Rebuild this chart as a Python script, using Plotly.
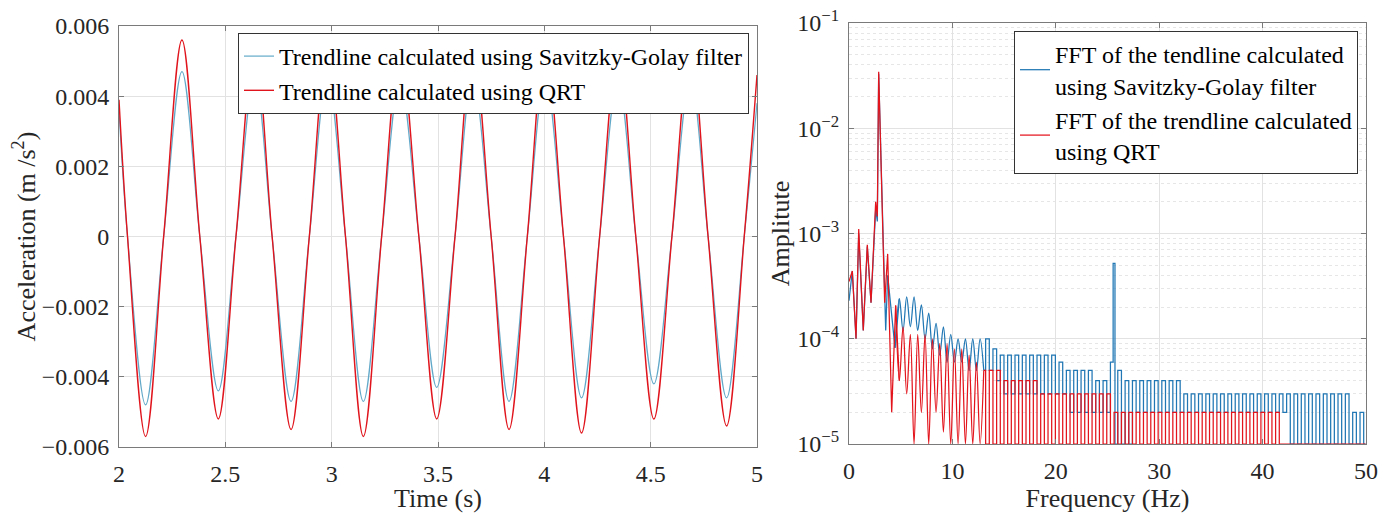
import plotly.graph_objects as go

# ---------------- Left panel: trendlines (Time in s, acceleration in m/s^2) ----------------
time_s = [2.00, 2.04, 2.125, 2.21, 2.296, 2.38, 2.467, 2.55, 2.638, 2.72, 2.809, 2.895,
          2.98, 3.065, 3.149, 3.235, 3.321, 3.41, 3.494, 3.58, 3.663, 3.75, 3.834, 3.92,
          4.004, 4.09, 4.175, 4.26, 4.346, 4.43, 4.515, 4.60, 4.687, 4.77, 4.857, 4.94, 5.00]
qrt_acc = [0.0039, 0, -0.0057, 0, 0.0056, 0, -0.0052, 0, 0.0055, 0, -0.0055, 0,
           0.0055, 0, -0.0057, 0, 0.0054, 0, -0.0052, 0, 0.0055, 0, -0.0055, 0,
           0.0055, 0, -0.0056, 0, 0.0054, 0, -0.0052, 0, 0.0055, 0, -0.0054, 0, 0.0046]
sg_acc = [0.0036, 0, -0.0048, 0, 0.0047, 0, -0.0044, 0, 0.0046, 0, -0.0047, 0,
          0.0046, 0, -0.0047, 0, 0.0045, 0, -0.0043, 0, 0.0046, 0, -0.0047, 0,
          0.0046, 0, -0.0046, 0, 0.0045, 0, -0.0042, 0, 0.0046, 0, -0.0046, 0, 0.0038]

# ---------------- Right panel: FFT amplitude spectra ----------------
sg_low_hz = [0.0, 0.32, 0.68, 0.94, 1.16, 1.38, 1.77, 2.13, 2.58, 2.74, 2.87, 3.55, 3.74, 4.45]
sg_low_amp = [2.3e-4, 4.4e-4, 1.0e-4, 1.0e-3, 3.5e-4, 1.2e-4, 7.5e-4, 2.2e-4, 1.7e-3, 1.3e-3,
              3.3e-2, 1.2e-4, 4.0e-4, 8.2e-5]
qrt_low_hz = [0.0, 0.32, 0.68, 0.94, 1.16, 1.38, 1.77, 2.13, 2.58, 2.74, 2.87, 3.45, 3.74, 4.13, 4.51]
qrt_low_amp = [3.5e-4, 4.4e-4, 1.0e-4, 1.1e-3, 3.6e-4, 1.2e-4, 7.8e-4, 2.2e-4, 2.0e-3, 1.45e-3,
               3.44e-2, 2.2e-4, 6.4e-4, 2.0e-5, 2.07e-4]

lobe_grid_hz = [
    4.870, 5.225, 5.580, 5.935, 6.290, 6.645, 7.000, 7.355, 7.710, 8.065, 8.420, 8.775,
    9.130, 9.485, 9.840, 10.195, 10.550, 10.905, 11.260, 11.615, 11.970, 12.325, 12.680, 13.035,
    13.390, 13.745, 14.100, 14.455, 14.810, 15.165, 15.520, 15.875, 16.230, 16.585, 16.940, 17.295,
    17.650, 18.005, 18.360, 18.715, 19.070, 19.425, 19.780, 20.135, 20.490, 20.845, 21.200, 21.555,
    21.910, 22.265, 22.620, 22.975, 23.330, 23.685, 24.040, 24.395, 24.750, 25.105, 25.460, 25.815,
    26.170, 26.525, 26.880, 27.235, 27.590, 27.945, 28.300, 28.655, 29.010, 29.365, 29.720, 30.075,
    30.430, 30.785, 31.140, 31.495, 31.850, 32.205, 32.560, 32.915, 33.270, 33.625, 33.980, 34.335,
    34.690, 35.045, 35.400, 35.755, 36.110, 36.465, 36.820, 37.175, 37.530, 37.885, 38.240, 38.595,
    38.950, 39.305, 39.660, 40.015, 40.370, 40.725, 41.080, 41.435, 41.790, 42.145, 42.500, 42.855,
    43.210, 43.565, 43.920, 44.275, 44.630, 44.985, 45.340, 45.695, 46.050, 46.405, 46.760, 47.115,
    47.470, 47.825, 48.180, 48.535, 48.890, 49.245, 49.600, 49.955]

# Savitzky-Golay spectrum: lobe tops (even grid points) and dips (odd grid points)
sg_lobe_peak = [2.4e-4, 2.5e-4, 2.5e-4, 2.1e-4, 1.75e-4, 1.4e-4, 1.3e-4, 1.1e-4,
                1.0e-4, 1.0e-4, 1.0e-4, 1.0e-4, 1.0e-4, 8e-5, 7e-5, 7e-5,
                7e-5, 7e-5, 7e-5, 7e-5, 7e-5, 7e-5, 6e-5, 5e-5,
                5e-5, 5e-5, 5e-5, 4e-5, 4e-5, 6e-5, 5e-5, 4e-5,
                4e-5, 4e-5, 4e-5, 4e-5, 4e-5, 4e-5, 4e-5, 3e-5,
                3e-5, 3e-5, 3e-5, 3e-5, 3e-5, 3e-5, 3e-5, 3e-5,
                3e-5, 3e-5, 3e-5, 3e-5, 3e-5, 3e-5, 3e-5, 3e-5,
                3e-5, 3e-5, 3e-5, 3e-5, 3e-5, 3e-5, 2e-5, 2e-5]
sg_lobe_dip = [1.2e-4, 1.3e-4, 1.2e-4, 1.0e-4, 8e-5, 7e-5, 6e-5, 6e-5,
               6e-5, 5e-5, 5e-5, 5e-5, 5e-5, 4e-5, 3e-5, 3e-5,
               3e-5, 3e-5, 3e-5, 3e-5, 3e-5, 3e-5, 3e-5, 2e-5,
               2e-5, 2e-5, 2e-5, 2e-5, 2e-5, 1e-5, 1e-5, 1e-5,
               2e-5, 2e-5, 2e-5, 2e-5, 2e-5, 2e-5, 2e-5, 2e-5,
               2e-5, 2e-5, 2e-5, 2e-5, 2e-5, 2e-5, 2e-5, 2e-5,
               2e-5, 2e-5, 2e-5, 2e-5, 2e-5, 1e-5, 1e-5, 1e-5,
               1e-5, 1e-5, 1e-5, 1e-5, 1e-5, 1e-5, 1e-5, 1e-5]
sg_spike_hz = [25.63]
sg_spike_amp = [5.2e-4]

# QRT spectrum: dips (even grid points) and lobe tops (odd grid points)
qrt_lobe_dip = [4e-5, 3e-5, 1e-5, 2e-5, 1e-5, 2e-5, 1.3e-5, 1e-5,
                1e-5, 1e-5, 1e-5, 1e-5, 1e-5, 1e-5, 1e-5, 1e-5,
                1e-5, 1e-5, 1e-5, 1e-5, 1e-5, 1e-5, 1e-5, 1e-5,
                1e-5, 1e-5, 1e-5, 1e-5, 1e-5, 1e-5, 1e-5, 1e-5,
                1e-5, 1e-5, 1e-5, 1e-5, 1e-5, 1e-5, 1e-5, 1e-5,
                1e-5, 1e-5, 1e-5, 1e-5, 1e-5, 1e-5, 1e-5, 1e-5,
                1e-5, 1e-5, 1e-5, 1e-5, 1e-5, 1e-5, 1e-5, 1e-5,
                1e-5, 1e-5, 1e-5, 1e-5, 1e-5, 1e-5, 1e-5, 1e-5]
qrt_lobe_peak = [1.3e-4, 1.1e-4, 1.1e-4, 1.1e-4, 1.0e-4, 9e-5, 9e-5, 8e-5,
                 8e-5, 7e-5, 6e-5, 5e-5, 5e-5, 5e-5, 4e-5, 4e-5,
                 4e-5, 4e-5, 4e-5, 3e-5, 3e-5, 3e-5, 3e-5, 3e-5,
                 3e-5, 3e-5, 3e-5, 3e-5, 3e-5, 2e-5, 2e-5, 2e-5,
                 2e-5, 2e-5, 2e-5, 2e-5, 2e-5, 2e-5, 2e-5, 2e-5,
                 2e-5, 2e-5, 2e-5, 2e-5, 2e-5, 2e-5, 2e-5, 2e-5,
                 2e-5, 2e-5, 2e-5, 2e-5, 1e-5, 1e-5, 1e-5, 1e-5,
                 1e-5, 1e-5, 1e-5, 1e-5, 1e-5, 1e-5, 1e-5, 1e-5]

left_x_ticks = [2, 2.5, 3, 3.5, 4, 4.5, 5]
right_y_ticks = [1e-5, 1e-4, 1e-3, 1e-2, 1e-1]
right_y_ticktext = ["10<sup>\u22125</sup>", "10<sup>\u22124</sup>", "10<sup>\u22123</sup>",
                    "10<sup>\u22122</sup>", "10<sup>\u22121</sup>"]

# ---------------- build the spectra ----------------
sg_grid_amp = [v for pair in zip(sg_lobe_peak, sg_lobe_dip) for v in pair]
qrt_grid_amp = [v for pair in zip(qrt_lobe_dip, qrt_lobe_peak) for v in pair]

sg_grid = sorted(zip(lobe_grid_hz + sg_spike_hz, sg_grid_amp + sg_spike_amp))
qrt_grid = sorted(zip(lobe_grid_hz, qrt_grid_amp))

ROUND_LOBES_UNTIL_HZ = 13.04   # rounded lobes below this, quantised steps above


def split_spectrum(low_hz, low_amp, grid):
    """Three drawing pieces sharing their end points: straight, rounded lobes, steps."""
    lobes = [p for p in grid if p[0] <= ROUND_LOBES_UNTIL_HZ]
    steps = [p for p in grid if p[0] >= lobes[-1][0]]
    part1 = (low_hz + [lobes[0][0]], low_amp + [lobes[0][1]])
    part2 = ([low_hz[-1]] + [p[0] for p in lobes], [low_amp[-1]] + [p[1] for p in lobes])
    part3 = ([p[0] for p in steps], [p[1] for p in steps])
    return part1, part2, part3


sg_parts = split_spectrum(sg_low_hz, sg_low_amp, sg_grid)
qrt_parts = split_spectrum(qrt_low_hz, qrt_low_amp, qrt_grid)

FONT = "Liberation Serif, Times New Roman, Times, serif"
TXT = "#262626"
AX = "#7a7a7a"
GRID = "#e2e2e2"
# page body has an 8 px margin, so the figure is drawn 8 px in from the window edges
W, H = 1386, 505

SG_BLUE_L = "#62a9c9"
QRT_RED_L = "#e0141c"
SG_BLUE_R = "#2077b4"
QRT_RED_R = "#e3141c"

fig = go.Figure()
fig.add_trace(go.Scatter(x=time_s, y=sg_acc, mode="lines",
                         line=dict(color=SG_BLUE_L, width=1.2, shape="spline"),
                         name="Trendline calculated using Savitzky-Golay filter",
                         xaxis="x", yaxis="y", legend="legend"))
fig.add_trace(go.Scatter(x=time_s, y=qrt_acc, mode="lines",
                         line=dict(color=QRT_RED_L, width=1.4, shape="spline"),
                         name="Trendline calculated using QRT",
                         xaxis="x", yaxis="y", legend="legend"))

for parts, color, name, grp in [
        (sg_parts, SG_BLUE_R, "FFT of the tendline calculated<br>using Savitzky-Golay filter", "sg"),
        (qrt_parts, QRT_RED_R, "FFT of the trendline calculated<br>using QRT", "qrt")]:
    for i, ((px, py), shape) in enumerate(zip(parts, ["linear", "spline", "hvh"])):
        fig.add_trace(go.Scatter(x=px, y=py, mode="lines",
                                 line=dict(color=color, width=1.25, shape=shape),
                                 name=name, legendgroup=grp, showlegend=(i == 0),
                                 xaxis="x2", yaxis="y2", legend="legend2"))

axis_common = dict(showline=True, linecolor=AX, linewidth=1, mirror="ticks",
                   ticks="inside", ticklen=5, tickcolor=AX, showgrid=True,
                   gridcolor=GRID, gridwidth=1, zeroline=False, automargin=False,
                   ticklabeloverflow="allow",
                   tickfont=dict(family=FONT, size=24, color=TXT))

fig.update_layout(
    width=W, height=H, margin=dict(l=0, r=0, t=0, b=0),
    paper_bgcolor="white", plot_bgcolor="white",
    font=dict(family=FONT, size=24, color=TXT),
    xaxis=dict(axis_common, domain=[111 / W, 749 / W], anchor="y", range=[2, 5],
               tickvals=left_x_ticks, ticklabelstandoff=5,
               title=dict(text="Time (s)", font=dict(size=26), standoff=4)),
    yaxis=dict(axis_common, domain=[66 / H, 487 / H], anchor="x", range=[-0.006, 0.006],
               dtick=0.002, ticklabelstandoff=4,
               title=dict(text="Acceleration (m /s<sup>2</sup>)", font=dict(size=26), standoff=2)),
    xaxis2=dict(axis_common, domain=[841 / W, 1358 / W], anchor="y2", range=[0, 50],
                dtick=10, ticklabelstandoff=5,
                title=dict(text="Frequency (Hz)", font=dict(size=26), standoff=4)),
    yaxis2=dict(axis_common, domain=[69 / H, 490 / H], anchor="x2", type="log", range=[-5, -1],
                tickvals=right_y_ticks, ticktext=right_y_ticktext, ticklabelstandoff=4,
                minor=dict(showgrid=True, gridcolor="#e6e6e6", griddash="dot", gridwidth=1,
                           ticks="", tickvals=[m * 10 ** e for e in range(-5, -1) for m in range(2, 10)]),
                title=dict(text="Amplitute", font=dict(size=26), standoff=0)),
    legend=dict(x=741 / W, xanchor="right", y=(H - 25) / H, yanchor="top",
                bgcolor="white", bordercolor="#333333", borderwidth=1,
                font=dict(family=FONT, size=24, color="black"), tracegroupgap=0),
    legend2=dict(x=1350 / W, xanchor="right", y=(H - 23) / H, yanchor="top",
                 bgcolor="white", bordercolor="#333333", borderwidth=1,
                 font=dict(family=FONT, size=24, color="black"), tracegroupgap=0),
    showlegend=True,
)

fig.write_html("out.html")
